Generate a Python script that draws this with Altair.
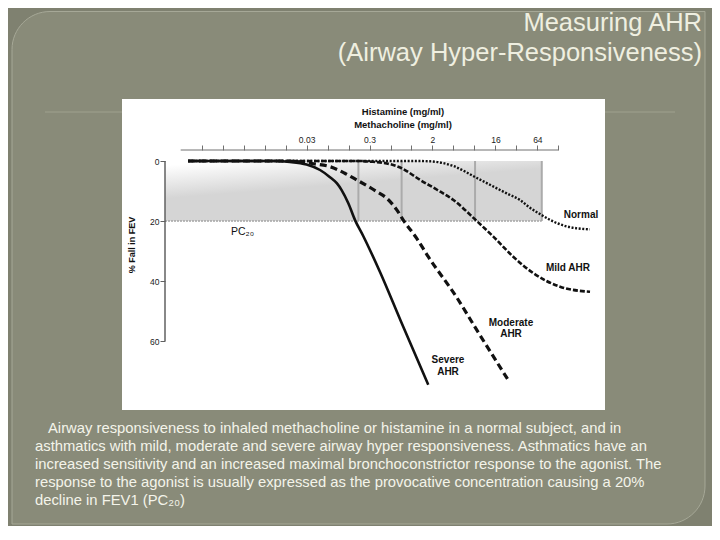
import json
import altair as alt
import pandas as pd

# ---------------- data (x in doubling-concentration steps: log2 mg/ml) ----------------
severe_k = [-10.65, -6.5, -5.8, -5.0, -4.36, -3.9, -3.56, -3.33, -3.01, -2.69, -2.30, -1.50, -0.50, 0.80]
severe_pct = [0, 0, 0.3, 1.2, 3.0, 5.3, 7.4, 9.7, 14.1, 19.7, 25.0, 37.0, 53.5, 74.6]

moderate_k = [-10.65, -6.0, -5.3, -4.6, -3.88, -3.2, -2.61, -1.66, -1.18, -0.70, -0.39, 0.25, 0.80, 2.16, 3.11, 4.61]
moderate_pct = [0, 0, 0.3, 1.0, 1.9, 4.0, 6.3, 10.2, 12.4, 16.3, 19.7, 25.8, 31.9, 45.5, 56.3, 73.0]

mild_k = [-10.65, -2.5, -1.98, -1.18, -0.47, 0.41, 1.2, 2.0, 3.11, 3.90, 4.85, 5.81, 7.08, 8.51]
mild_pct = [0, 0, 0.2, 0.8, 2.4, 6.3, 9.5, 13.0, 20.0, 25.2, 31.9, 37.4, 41.9, 43.6]

normal_k = [-10.65, 0.3, 0.88, 2.0, 3.1, 4.54, 5.17, 5.65, 6.2, 6.6, 7.4, 8.5]
normal_pct = [0, 0, 0.1, 1.7, 5.6, 10.8, 13.0, 15.6, 18.0, 19.6, 21.8, 22.8]

pc20_k = [-2.53, -0.47, 3.03, 6.21]          # PC20 of severe, moderate, mild, normal

tick_k = list(range(-10, 8))
label_k = [-5, -2, 1, 4, 6]
label_text = ["0.03", "0.3", "2", "16", "64"]
y_ticks = [0, 20, 40, 60]

title_lines = ["Measuring AHR", "(Airway Hyper-Responsiveness)"]
para_lines = [
    "Airway responsiveness to inhaled methacholine or histamine in a normal subject, and in",
    "asthmatics with mild, moderate and severe airway hyper responsiveness. Asthmatics have an",
    "increased sensitivity and an increased maximal bronchoconstrictor response to the agonist. The",
    "response to the agonist is usually expressed as the provocative concentration causing a 20%",
    "decline in FEV1 (PC\u2082\u2080)",
]

# ---------------- layout helpers (page pixel -> data units) ----------------
W, H = 704, 518


def k_at(px):
    return -11 + (px - 180.7) / 20.98


def p_at(py):
    return (py - 161) / 3.0


xs = alt.Scale(domain=[k_at(8), k_at(8 + W)], nice=False, zero=False)
ys = alt.Scale(domain=[p_at(8), p_at(8 + H)], nice=False, zero=False, reverse=True)

label_expr = (f"indexof({json.dumps(label_k)}, datum.value) < 0 ? '' : "
              f"{json.dumps(label_text)}[indexof({json.dumps(label_k)}, datum.value)]")

x_axis = alt.Axis(orient="top", offset=-142, domain=False, grid=False, values=tick_k,
                  tickSize=5, tickColor="#707070", tickWidth=1, labelExpr=label_expr,
                  labelFontSize=8.5, labelColor="#222222", labelPadding=1, labelFont="Liberation Sans",
                  labelOverlap=False, labelFlush=False, title=None, zindex=1)
y_axis = alt.Axis(orient="left", offset=-157, domain=False, grid=False, values=y_ticks,
                  tickSize=5, tickColor="#606060", tickWidth=1, labelFontSize=8.5,
                  labelColor="#222222", labelPadding=1, labelFont="Liberation Sans", title=None,
                  zindex=1)


def X(f="k"):
    return alt.X(f"{f}:Q", scale=xs, axis=x_axis)


def Y(f="p"):
    return alt.Y(f"{f}:Q", scale=ys, axis=y_axis)


def rect_df(x1, x2, y1, y2):
    return pd.DataFrame({"k": [k_at(x1)], "k2": [k_at(x2)], "p": [p_at(y1)], "p2": [p_at(y2)]})


# ---------------- slide ----------------
panel = alt.Chart(rect_df(12, 705, 11.5, 524)).mark_rect(
    fill="#898b79", stroke="#a6a897", strokeWidth=1,
    cornerRadiusTopLeft=38, cornerRadiusBottomRight=38,
).encode(x=X(), x2="k2:Q", y=Y(), y2="p2:Q")

hline = alt.Chart(pd.DataFrame({"k": [k_at(45)], "k2": [k_at(675)], "p": [p_at(112)]})).mark_rule(
    color="#9fa18f", strokeWidth=1
).encode(x=X(), x2="k2:Q", y=Y())

white_box = alt.Chart(rect_df(122, 605, 99, 410)).mark_rect(fill="white").encode(
    x=X(), x2="k2:Q", y=Y(), y2="p2:Q")

# ---------------- inner figure ----------------
shade = alt.Chart(pd.DataFrame({"k": [k_at(165)], "k2": [pc20_k[3]], "p": [0], "p2": [20]})).mark_rect(
    fill={"gradient": "linear", "x1": 0, "y1": 0, "x2": 0.25, "y2": 0.5,
          "stops": [{"offset": 0, "color": "#ffffff"}, {"offset": 0.12, "color": "#ffffff"},
                    {"offset": 1, "color": "#d5d5d5"}]}
).encode(x=X(), x2="k2:Q", y=Y(), y2="p2:Q")

pc_lines = alt.Chart(pd.DataFrame({"k": pc20_k, "p": [0] * 4, "p2": [20] * 4})).mark_rule(
    color="#ababab", strokeWidth=2
).encode(x=X(), y=Y(), y2="p2:Q")

line20 = alt.Chart(pd.DataFrame({"k": [k_at(165)], "k2": [pc20_k[3]], "p": [20]})).mark_rule(
    color="#a5a5a5", strokeWidth=1.5, strokeDash=[2, 1]
).encode(x=X(), x2="k2:Q", y=Y())

x_domain = alt.Chart(pd.DataFrame({"k": [-11], "k2": [7], "p": [p_at(150)]})).mark_rule(
    color="#707070", strokeWidth=1
).encode(x=X(), x2="k2:Q", y=Y())

y_domain = alt.Chart(pd.DataFrame({"k": [k_at(165)], "p": [0], "p2": [60]})).mark_rule(
    color="#606060", strokeWidth=1.5
).encode(x=X(), y=Y(), y2="p2:Q")


def curve(ks, ps, dash, width):
    df = pd.DataFrame({"k": ks, "p": ps})
    kw = dict(color="#111111", strokeWidth=width, interpolate="monotone")
    if dash:
        kw["strokeDash"] = dash
    return alt.Chart(df).mark_line(**kw).encode(x=X(), y=Y())


normal = curve(normal_k, normal_pct, [2, 1.6], 2.4)
mild = curve(mild_k, mild_pct, [5, 2], 2.6)
moderate = curve(moderate_k, moderate_pct, [7, 4], 3.2)
severe = curve(severe_k, severe_pct, None, 2.6)


def texts(rows, **kw):
    df = pd.DataFrame({"k": [k_at(r[1]) for r in rows], "p": [p_at(r[2]) for r in rows],
                       "text": [r[0] for r in rows]})
    return alt.Chart(df).mark_text(**kw).encode(x=X(), y=Y(), text="text:N")


curve_labels = texts(
    [("Normal", 581, 215), ("Mild AHR", 568, 268), ("Moderate", 511, 322.7), ("AHR", 511, 334),
     ("Severe", 448, 360), ("AHR", 448, 372)],
    font="Liberation Sans", fontSize=10, fontWeight="bold", color="#111111",
    align="center", baseline="middle")

conc_labels = texts(
    [("Histamine (mg/ml)", 403, 112), ("Methacholine (mg/ml)", 403, 124.5)],
    font="Liberation Sans", fontSize=9.5, fontWeight="bold", color="#111111",
    align="center", baseline="middle")

pc_label = texts([("PC\u2082\u2080", 231, 232)], font="Liberation Sans", fontSize=10.5,
                 color="#111111", align="left", baseline="middle")

y_title = texts([("% Fall in FEV", 131.5, 245)], font="Liberation Sans", fontSize=9,
                fontWeight="bold", color="#111111", align="center", baseline="middle", angle=270)

# ---------------- slide text ----------------
title = texts([(title_lines[0], 702, 30.5), (title_lines[1], 702, 61)],
              font="Liberation Sans", fontSize=25.5, color="#efefe0", align="right",
              baseline="alphabetic")

para_rows = [(t, 48 if i == 0 else 35, 433.3 + 17.9 * i) for i, t in enumerate(para_lines)]
para = texts(para_rows, font="Liberation Sans", fontSize=14.8, color="#f4f4ea", align="left",
             baseline="alphabetic")

chart = alt.layer(
    panel, hline, white_box, shade, pc_lines, line20, x_domain, y_domain,
    severe, moderate, mild, normal,
    curve_labels, conc_labels, pc_label, y_title, title, para,
).properties(
    width=W, height=H, padding=0, autosize=alt.AutoSizeParams(type="none"),
    background="#7f8170",
).configure_view(stroke=None)

chart.save("out.html", embed_options={"renderer": "svg", "actions": False})
